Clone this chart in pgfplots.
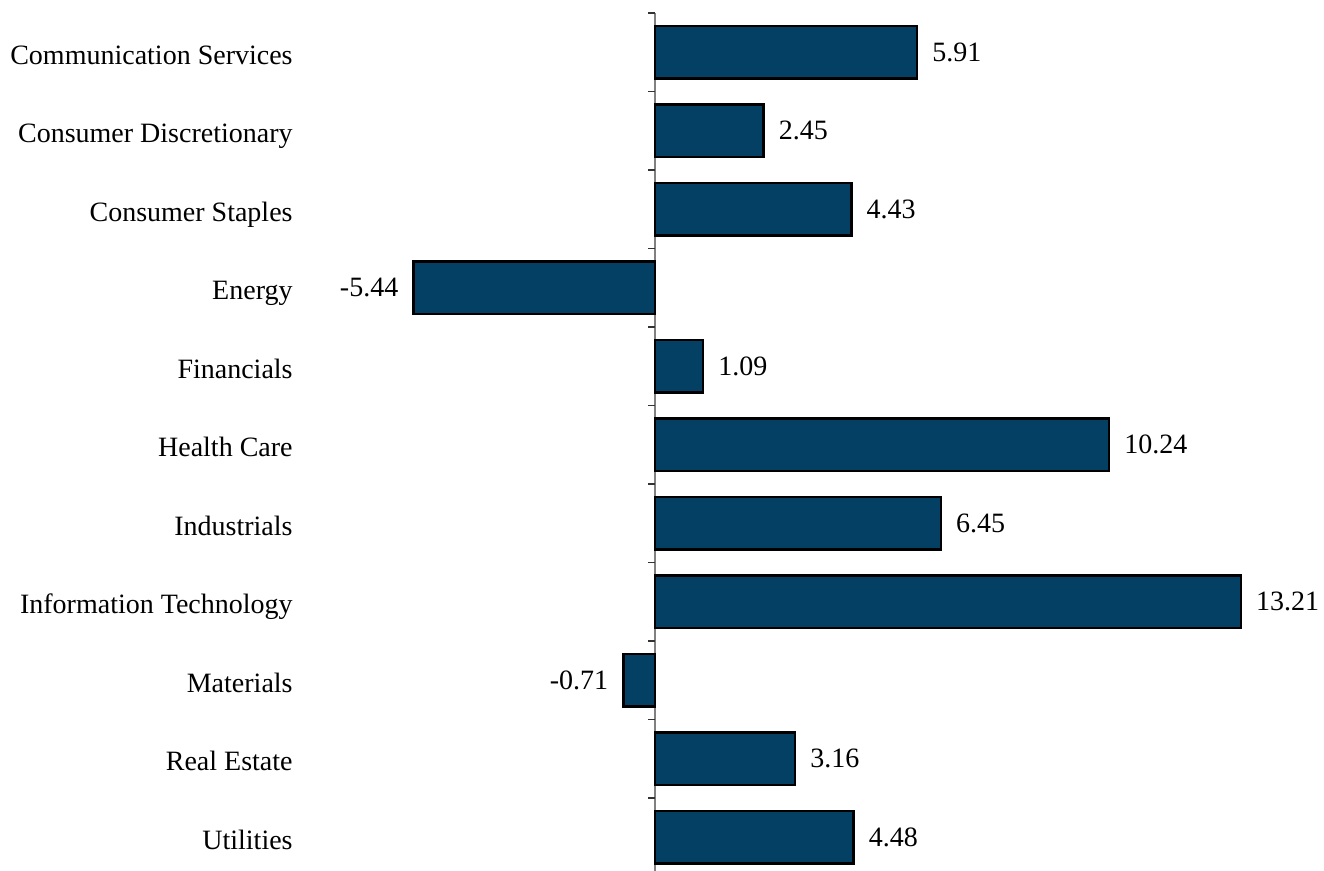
\documentclass[border=0pt]{standalone}
\usepackage{fontspec}
\setmainfont{Liberation Serif}
\usepackage{pgfplots}
\pgfplotsset{compat=1.18}
\definecolor{barblue}{RGB}{3,64,99}
\definecolor{zeroline}{RGB}{128,128,128}
\begin{document}
\begin{tikzpicture}
\useasboundingbox (-150pt,0) rectangle (512pt,435.5pt);
\begin{axis}[
    at={(0,0)}, anchor=south west,
    scale only axis,
    width=512pt, height=429pt,
    xmin=-8, xmax=15.085,
    ymin=-0.5, ymax=10.43,
    y dir=reverse,
    hide x axis,
    y axis line style={draw=none},
    ytick={0,...,10},
    yticklabels={Communication Services, Consumer Discretionary, Consumer Staples,
        Energy, Financials, Health Care, Industrials, Information Technology,
        Materials, Real Estate, Utilities},
    major tick length=0pt,
    tick style={draw=none},
    yticklabel style={anchor=base east, inner sep=0pt, xshift=-3.5pt, yshift=-6.1pt,
        font=\fontsize{14}{16}\selectfont},
    xbar, bar width=0.67, bar shift=0pt,
    point meta=x,
    nodes near coords={\pgfmathprintnumber[fixed, precision=2, fixed zerofill, assume math mode=true]{\pgfplotspointmeta}},
    every node near coord/.append style={font=\fontsize{14}{16}\selectfont,
        inner xsep=7pt, black},
    clip=false,
]
\draw[zeroline, line width=1pt] (axis cs:0,-0.5) -- (axis cs:0,10.43);
\pgfplotsinvokeforeach{-0.5,0.5,1.5,2.5,3.5,4.5,5.5,6.5,7.5,8.5,9.5}{
    \draw[black!80, line width=0.75pt] (axis cs:0,#1) -- ++(-3.5pt,0pt);
}
\addplot[fill=barblue, draw=black, line width=1.25pt] coordinates {
    (5.91,0)
    (2.45,1)
    (4.43,2)
    (-5.44,3)
    (1.09,4)
    (10.24,5)
    (6.45,6)
    (13.21,7)
    (-0.71,8)
    (3.16,9)
    (4.48,10)
};
\end{axis}
\end{tikzpicture}
\end{document}
